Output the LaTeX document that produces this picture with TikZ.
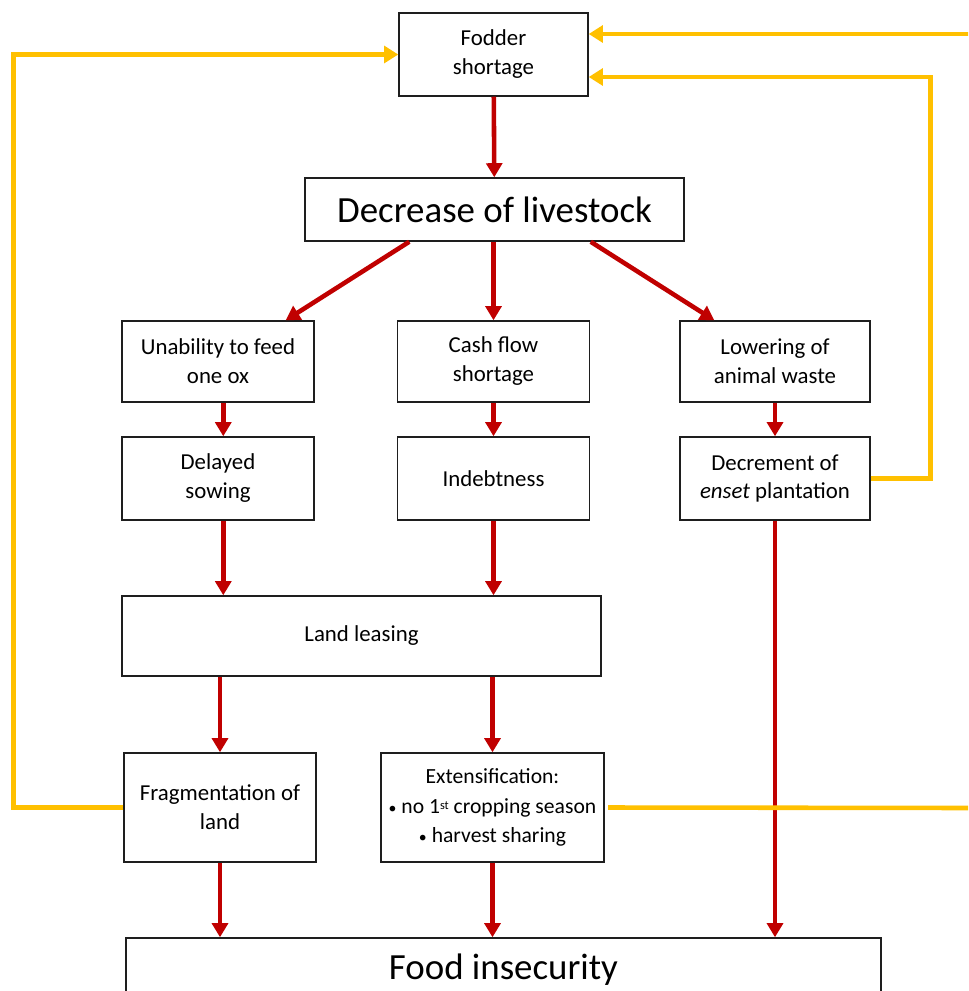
\documentclass[tikz,border=0pt]{standalone}
\usepackage{fontspec}
\setmainfont{Carlito}
\usepackage{xcolor}
\usepackage{tikz}
\usetikzlibrary{positioning,arrows.meta,calc}
\definecolor{fink}{HTML}{1E1E1E}
\definecolor{fred}{HTML}{C00000}
\definecolor{fyel}{HTML}{FFC000}
\tikzset{
  box/.style    ={draw=fink, line width=0.85pt, fill=white, align=center,
                  inner sep=2pt, minimum width=3.84cm, minimum height=1.64cm,
                  font=\fontsize{13}{16.5}\selectfont},
  bigbox/.style ={box, font=\fontsize{21}{25}\selectfont},
  cause/.style  ={-{Triangle[length=8pt, width=9pt]}, line width=2.6pt, draw=fred},
  loopline/.style={line width=2.6pt, draw=fyel},
  loop/.style   ={loopline, -{Triangle[length=8pt, width=9.5pt]}},
}

\begin{document}
\begin{tikzpicture}[x=0.02cm, y=-0.02cm]
  \useasboundingbox (0,0) rectangle (968,991);
  \clip (0,0) rectangle (968,991);
  % top of the chain
  \node[box, minimum width=3.78cm, minimum height=1.66cm] (fs) at (493.5,54.5) {Fodder\\shortage};
  \node[bigbox, minimum width=7.58cm, minimum height=1.26cm] (dl) at (494.5,209.5) {Decrease of livestock};
  % three branches
  \node[box, minimum height=1.62cm] (ua) at (218,361.5) {Unability to feed\\one ox};
  \node[box, minimum height=1.62cm] (cf) at (493.5,361.5) {Cash flow\\shortage};
  \node[box, minimum width=3.8cm, minimum height=1.62cm] (lw) at (775,361.5) {Lowering of\\animal waste};
  \node[box, minimum height=1.66cm] (ds) at (218,478.5) {Delayed\\sowing};
  \node[box, minimum height=1.66cm] (ib) at (493.5,478.5) {Indebtness};
  \node[box, minimum width=3.8cm, minimum height=1.66cm] (dp) at (775,478.5) {Decrement of\\\emph{enset} plantation};
  \node[box, minimum width=9.58cm, minimum height=1.6cm] (ll) at (361.5,636) {Land leasing};
  \node[box, minimum height=2.18cm] (fr) at (220,807.5) {Fragmentation of\\land};
  \node[box, minimum width=4.46cm, minimum height=2.18cm, inner sep=1pt,
        font=\fontsize{12.3}{17}\selectfont] (ex) at (492.5,807.5)
    {Extensification:\\{\small\textbullet}\ no 1{\fontsize{7}{7}\selectfont\raisebox{0.6ex}{st}} cropping season\\{\small\textbullet}\ harvest sharing};
  \node[bigbox, minimum width=15.1cm, minimum height=1.28cm] (fi) at (503.5,970) {Food insecurity};
  % causal links
  \draw[cause] (fs) -- (dl);
  \draw[cause] ([xshift=2.1cm]dl.south west) -- ([xshift=-0.58cm]ua.north east);
  \draw[cause] (cf.north |- dl.south) -- (cf);
  \draw[cause] ([xshift=-1.88cm]dl.south east) -- ([xshift=0.7cm]lw.north west);
  \draw[cause] ([xshift=3pt]ua.south) -- ([xshift=3pt]ds.north);
  \draw[cause] (cf) -- (ib);
  \draw[cause] (lw) -- (dp);
  \draw[cause] ([xshift=3pt]ds.south) -- ([xshift=3pt]ds.south |- ll.north);
  \draw[cause] (ib.south) -- (ib.south |- ll.north);
  \draw[cause] (fr.north |- ll.south) -- (fr.north);
  \draw[cause] (ex.north |- ll.south) -- (ex.north);
  \draw[cause] (fr.south) -- (fr.south |- fi.north);
  \draw[cause] (ex.south) -- (ex.south |- fi.north);
  \draw[cause] (dp.south) -- (dp.south |- fi.north);
  % feedback loops
  \coordinate (inR) at (975,34);
  \coordinate (outR) at (975,808);
  \draw[loopline] ([xshift=2pt]ex.east) -- (outR);
  \draw[loop] (inR) -- (inR -| fs.east);
  \draw[loop] (dp.east) -- ++(60,0) |- ([yshift=-0.45cm]fs.east);
  \draw[loop] (fr.west) -- ++(-110,0) |- (fs.west);
\end{tikzpicture}
\end{document}
